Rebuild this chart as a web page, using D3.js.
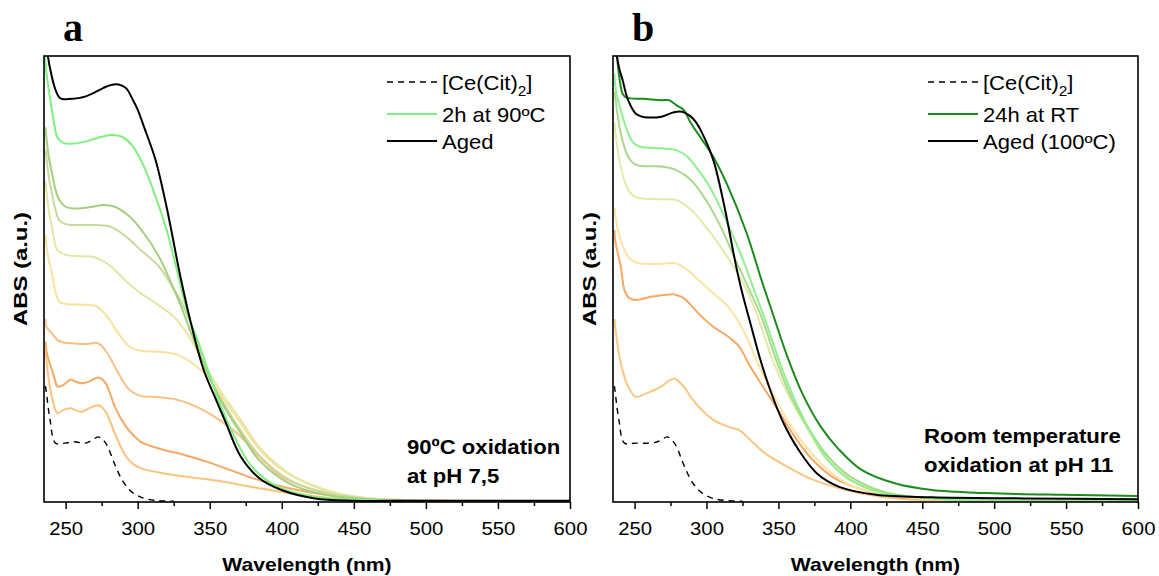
<!DOCTYPE html>
<html>
<head>
<meta charset="utf-8">
<script src="https://cdn.jsdelivr.net/npm/d3@7"></script>
<style>
  body { margin: 0; background: #fff; }
  svg { display: block; }
</style>
</head>
<body>
<svg width="1159" height="576"></svg>
<script>
// ---- data: [wavelength (nm), absorbance (a.u., 0-100)] ----

// panel a : 90ºC oxidation at pH 7,5
const aCit = [[236,26],[236.6,24.7],[239.2,18.4],[243,13.2],[249.4,13.2],[255.8,13.5],[263.6,13.2],[268,13.8],[272.5,14.6],[275,14.2],[277.8,13.2],[280,11.8],[282.9,9.4],[286,7],[289.3,4.9],[293,3.2],[297,2],[304.7,0.8],[314.8,0.3],[325,0.2]];
const aLowDouble = [[236,34],[236.6,32],[238.5,27],[240.5,23.5],[242.5,21],[244.3,19.9],[248.2,20.6],[253.3,21],[257,20.6],[261,20.2],[266.2,21],[272.5,21.7],[275,21.3],[277.8,20.2],[281,18],[284.1,15.4],[291.9,10.2],[297,8.5],[302.1,7.6],[314.8,6.6],[332.8,5.7],[358.5,4.6],[384.2,3.1],[405,2],[430,1],[461,0.4],[520,0.2],[600,0.2]];
const aDouble = [[236,36],[236.6,34.1],[238.5,31.5],[240.5,29.6],[242.5,27.5],[244.3,25.9],[248.2,26.2],[253.3,27.4],[257,27],[261,26.6],[266.2,27],[272.5,27.9],[275,27.6],[277.8,26.6],[281,24.2],[284.1,21.4],[291.9,16.9],[297,15],[302.1,13.5],[314.8,12],[332.8,10.5],[348.4,9],[363.8,7.2],[384.2,4.9],[405,3.1],[430.7,1.6],[461,0.6],[520,0.2],[600,0.2]];
const aOrange = [[236,41],[236.6,39.3],[240.5,37.8],[244.3,36.3],[248,35.8],[253.3,35.6],[263.6,35.4],[272.5,35.6],[279,33.3],[286.7,28.8],[294.4,25.1],[302.1,23.8],[314.8,23.5],[327.8,22.9],[340.7,21.4],[353.5,19.1],[369,15.4],[384.2,10.2],[399.8,5.7],[423,2.7],[448.7,1.2],[480,0.5],[520,0.3],[600,0.2]];
const aYellow = [[236,60],[236.6,57.6],[238.5,54],[240.5,51.3],[243,47],[246,44.8],[250,44.4],[263.6,44.2],[271.3,43.9],[279,41.5],[286.7,37.8],[294.4,34.8],[302.1,33.9],[314.8,33.7],[327.8,33],[338.1,31.1],[348.4,28.1],[358.5,23.6],[371.5,17.6],[384,12],[397.2,7.9],[423,3.4],[448.7,1.2],[480,0.5],[520,0.3],[600,0.2]];
const aPale = [[236,72],[236.6,70],[238.5,65],[240.5,61.7],[244.3,56.5],[250.7,55.4],[260,55.1],[268.7,55],[275,54.2],[281.5,52.8],[291.9,49.5],[302.1,46.8],[312.4,44.6],[325.2,41.5],[335.6,37.1],[345.8,31.1],[358.5,24.4],[371.5,18.4],[384.2,12.4],[405,6.4],[430.6,2.7],[461.2,0.8],[500,0.3],[600,0.2]];
const aLightOlive = [[236,79],[236.6,77.4],[238.5,72.5],[240.5,69.2],[243,65.5],[245.6,63.2],[250,62.3],[255.8,62.1],[271.3,62.1],[281.5,61.7],[291.9,59.5],[302.1,56.5],[314.8,52.8],[322.7,49],[330,45],[338,39],[345,32],[350,28],[358.5,22.8],[371.5,16],[384.2,10.5],[405,5],[430.6,2],[461.2,0.7],[520,0.2],[600,0.2]];
const aOlive = [[236,84],[236.6,81.9],[238.5,77],[240.5,73.8],[243,70],[245.6,67.7],[250,66.2],[255.8,65.8],[262,65.9],[268.7,66.2],[276.4,66.6],[284.1,66.2],[294.4,64],[304.4,60.2],[314.8,55],[322.7,49.5],[330,44],[338.1,37],[348.4,28.9],[358.5,22.2],[371.5,15.4],[384.2,9.4],[405,4.2],[430.6,1.6],[461.2,0.6],[520,0.2],[600,0.2]];
const a2h = [[235,102],[236.6,96.5],[238.5,92],[240.5,87.9],[242.5,84],[244.3,81.7],[248,80.6],[253.3,80.3],[263.5,80.8],[272,81.6],[281.5,82.3],[289.1,81.9],[296.8,79.7],[304.4,75.2],[312.4,68.5],[320.1,61],[327.8,51.3],[335,42],[343.3,34.8],[353.5,25.1],[363.8,16.9],[379.3,7.9],[397.2,3.4],[423,1.2],[461.2,0.4],[520,0.2],[600,0.1]];
const aAged = [[235,110],[237.8,99.8],[240,96],[243,92.4],[246,90.6],[249.4,90.3],[255,90.4],[263.5,90.9],[270,91.8],[276,92.8],[281.5,93.5],[286.7,93.6],[291.9,92.8],[296.8,90.1],[300,88],[304.4,84.1],[312.4,76.7],[320.1,66.1],[330,50],[338.1,38.6],[345.8,29.6],[353.5,23.6],[361.3,17.7],[371.5,10.2],[384.2,5.4],[399.8,2.7],[423,0.8],[448.7,0.3],[500,0.3],[600,0.3]];

// panel b : room temperature oxidation at pH 11
const bCit = [[236,26],[236.5,24.7],[239.1,18.4],[243,13.2],[250.7,13.2],[263.6,13.3],[268,13.8],[272.5,14.6],[275,14.2],[277.7,13.2],[280,11.8],[282.9,9.4],[286,7],[289.2,4.9],[293,3.2],[297,2],[304.7,0.8],[315,0.3],[325,0.2]];
const bLightOrange = [[236,41],[236.5,39.3],[238.5,34.5],[240.4,31.1],[243,28],[245.5,25.9],[250.7,23.6],[258.4,24.4],[263,25],[268.7,25.9],[273,27],[277.7,27.7],[281,26.9],[284.2,25.9],[289,23.6],[294.4,21.4],[304.7,18.4],[315,16.9],[322.8,16.1],[330.5,13.9],[340.8,10.9],[356.2,7.9],[371.7,5.3],[392.3,3.1],[418,1.35],[440,0.6],[480,0.3],[600,0.2]];
const bOrange = [[236,61],[236.5,58.7],[238.5,55.5],[240.4,52.8],[243,47.5],[246,45.8],[250.7,45.3],[255,45.5],[261,46],[270,46.4],[276.4,46.6],[280,46.3],[284.2,45.7],[289,44.2],[294.4,42.3],[304.7,39.3],[315,37.1],[322.8,34.8],[330.5,30.3],[340.8,25.1],[351.1,19.9],[361.4,14.6],[371.7,10.2],[387.2,5.7],[405.2,3.1],[430.9,1.2],[456.7,0.6],[500,0.3],[600,0.2]];
const bYellow = [[236,66],[236.5,64.3],[238.5,61],[240.4,58.7],[243,56.5],[245.5,55],[249,54],[253.3,53.5],[268.7,53.4],[279,53.5],[286.7,52],[294.4,49.8],[304.7,46.8],[315,43.8],[325.4,38.6],[335.7,31.1],[346,24.4],[356.2,18.4],[369.2,12.4],[382,7.9],[397.4,4.2],[418,2],[450,0.7],[500,0.3],[600,0.2]];
const bPale = [[236,85],[236.5,83.4],[238.5,78.5],[240.4,75.2],[243,72],[245.5,70],[249,68.7],[253.3,68.1],[268.7,67.9],[279,67.7],[289.2,65.5],[299.6,61.7],[309.9,57.2],[320.2,52],[328,47.5],[335.7,41.5],[346,31.8],[356.2,24.4],[369.2,16.9],[382,10.2],[397.4,5.7],[418,2.3],[456.7,0.8],[500,0.3],[600,0.2]];
const bOlive = [[236,92],[236.5,90.9],[238.5,86],[240.4,82.7],[243,79.5],[245.5,77.4],[249,76],[253.3,75.4],[268.7,75.2],[279,74.4],[289.2,72.2],[299.6,67.7],[309.9,61.7],[320.2,54.3],[329.2,48],[338.2,41.5],[348.5,31.8],[358.8,23.6],[371.7,16.1],[384.5,10.2],[400,5.7],[423.2,2.3],[456.7,0.8],[500,0.4],[600,0.3]];
const bLightGreen = [[236,96],[236.5,93.5],[238.5,90],[240.4,87.9],[243,85],[245.5,82.7],[249,80.6],[253.3,79.7],[268.7,79.3],[279,78.9],[286.7,77.4],[294.4,74.4],[302.2,70.7],[312.5,64],[325.4,54.3],[332,48.5],[340.8,40.8],[351.1,31.1],[361.4,22.9],[371.7,16.1],[384.5,9.4],[400,4.9],[423.2,2],[456.7,0.8],[500,0.3],[600,0.1]];
const b24h = [[235,108],[237.8,99.8],[239.5,95],[241.7,91.5],[244,90.7],[246.8,90.5],[255.8,90.4],[268.7,90.1],[273.8,90.1],[279,89],[284.2,87.9],[289.2,84.9],[297,81.2],[304.7,77.4],[315,70.7],[328,60.2],[338.2,49.8],[346,42.3],[356.2,32.6],[366.5,24.4],[379.4,16.9],[392.3,11.7],[407.8,7.2],[430.9,4.2],[456.7,2.7],[495.3,2],[546.8,1.6],[600,1.35]];
const bAged = [[235,108],[237.8,99.8],[239.5,97],[241.7,94.6],[243.5,92.2],[245.5,90.1],[250.7,87.1],[255,86.4],[259.7,86.2],[268.7,86.4],[276.4,87.3],[282.9,87.5],[289.2,86.4],[293,85],[297,82.7],[304.7,76.7],[312.5,66.2],[320.2,53.5],[324,48],[330.5,40.1],[338.2,31.1],[346,23.6],[353.7,17.6],[364,11.7],[376.8,6.4],[392.3,3.4],[418,1.6],[456.7,1.05],[521,0.8],[600,0.6]];

const majorTicks = [250, 300, 350, 400, 450, 500, 550, 600];
const minorTicks = [275, 325, 375, 425, 475, 525, 575];
const legendA = ["[Ce(Cit)", "2h at 90ºC", "Aged"];
const legendB = ["[Ce(Cit)", "24h at RT", "Aged (100ºC)"];
const noteA = ["90ºC oxidation", "at pH 7,5"];
const noteB = ["Room temperature", "oxidation at pH 11"];

// ---- styles ----
const panels = [
    {id: "a", left: 44, right: 570, legendX: 343, noteX: 363, noteY: 454, legend: legendA, note: noteA,
     series: [
        {d: aCit, c: "#000", dash: "6,5", w: 1.4},
        {d: aLowDouble, c: "#fbc37f"},
        {d: aDouble, c: "#f7a862"},
        {d: aOrange, c: "#f9bf86"},
        {d: aYellow, c: "#fbe09c"},
        {d: aPale, c: "#e4e6a4"},
        {d: aLightOlive, c: "#c7da9b"},
        {d: aOlive, c: "#a3cf7f"},
        {d: a2h, c: "#7ff07f"},
        {d: aAged, c: "#000"}
     ],
     legendStyle: [{c: "#000", dash: "6,5"}, {c: "#7ff07f"}, {c: "#000"}]},
    {id: "b", left: 613, right: 1138, legendX: 315, noteX: 311, noteY: 443, legend: legendB, note: noteB,
     series: [
        {d: bCit, c: "#000", dash: "6,5", w: 1.4},
        {d: bLightOrange, c: "#fbc583"},
        {d: bOrange, c: "#f7a964"},
        {d: bYellow, c: "#fde2a2"},
        {d: bPale, c: "#e3eaa8"},
        {d: bOlive, c: "#a9d98a"},
        {d: bLightGreen, c: "#8ef08e"},
        {d: b24h, c: "#1b8c1b"},
        {d: bAged, c: "#000"}
     ],
     legendStyle: [{c: "#000", dash: "6,5"}, {c: "#1b8c1b"}, {c: "#000"}]}
];

const plotTop = 56, plotBottom = 502;
const sans = "'Liberation Sans', Arial, sans-serif";
const svg = d3.select("svg");

function addText(g, x, y, str, size, weight, sx) {
    return g.append("text")
        .attr("transform", "translate(" + x + "," + y + ") scale(" + sx + ",1)")
        .attr("font-family", sans)
        .attr("font-size", size + "px")
        .attr("font-weight", weight)
        .attr("fill", "#000")
        .text(str);
}

panels.forEach(p => {
    const x = d3.scaleLinear().domain([235, 600]).range([p.left, p.right]);
    const y = d3.scaleLinear().domain([0, 100]).range([plotBottom, plotTop]);
    const g = svg.append("g");

    g.append("clipPath").attr("id", "clip-" + p.id)
        .append("rect")
        .attr("x", p.left).attr("y", plotTop)
        .attr("width", p.right - p.left).attr("height", plotBottom - plotTop);

    const line = d3.line()
        .x(d => x(d[0]))
        .y(d => y(d[1]))
        .curve(d3.curveCatmullRom.alpha(0.5));

    g.append("g").attr("clip-path", "url(#clip-" + p.id + ")")
        .selectAll("path")
        .data(p.series)
        .enter()
        .append("path")
        .attr("d", s => line(s.d))
        .attr("fill", "none")
        .attr("stroke", s => s.c)
        .attr("stroke-width", s => s.w || 2)
        .attr("stroke-dasharray", s => s.dash || null)
        .attr("stroke-linejoin", "round");

    // x axis, major + minor ticks
    const ax = g.append("g").attr("transform", "translate(0," + plotBottom + ")")
        .call(d3.axisBottom(x).tickValues(majorTicks).tickSize(7).tickSizeOuter(0));
    ax.select(".domain").remove();
    ax.selectAll(".tick line").attr("stroke", "#000").attr("stroke-width", 1.5);
    ax.selectAll(".tick text")
        .attr("y", 33).attr("dy", null)
        .attr("transform", "scale(1.13,1)")
        .attr("font-family", sans)
        .attr("font-size", "18px")
        .attr("fill", "#000");

    const mx = g.append("g").attr("transform", "translate(0," + plotBottom + ")")
        .call(d3.axisBottom(x).tickValues(minorTicks).tickSize(4).tickFormat(""));
    mx.select(".domain").remove();
    mx.selectAll(".tick line").attr("stroke", "#000").attr("stroke-width", 1.5);

    // frame
    g.append("rect")
        .attr("x", p.left).attr("y", plotTop)
        .attr("width", p.right - p.left).attr("height", plotBottom - plotTop)
        .attr("fill", "none").attr("stroke", "#000").attr("stroke-width", 1.6);

    // axis titles
    addText(g, (p.left + p.right) / 2, 571, "Wavelength (nm)", 18.7, "bold", 1.13)
        .attr("text-anchor", "middle");
    g.append("text")
        .attr("transform", "translate(" + (p.left - 17) + ",269) rotate(-90)")
        .attr("text-anchor", "middle")
        .attr("font-family", sans)
        .attr("font-size", "19px")
        .attr("font-weight", "bold")
        .attr("textLength", 114)
        .attr("lengthAdjust", "spacingAndGlyphs")
        .text("ABS (a.u.)");

    // panel letter
    g.append("text")
        .attr("x", p.left + 19).attr("y", 41)
        .attr("font-family", "'Liberation Serif', 'Times New Roman', serif")
        .attr("font-size", "40px")
        .attr("font-weight", "bold")
        .text(p.id);

    // legend
    const rows = [82, 114, 141];
    p.legend.forEach((label, i) => {
        const st = p.legendStyle[i];
        g.append("line")
            .attr("x1", p.left + p.legendX).attr("x2", p.left + p.legendX + 50)
            .attr("y1", rows[i]).attr("y2", rows[i])
            .attr("stroke", st.c).attr("stroke-width", st.dash ? 1.4 : 2)
            .attr("stroke-dasharray", st.dash || null);
        const t = addText(g, p.left + p.legendX + 55, rows[i] + 8, label, 20, "normal", 1.1);
        if (i === 0) {
            t.append("tspan").attr("dy", 6).attr("font-size", "14px").text("2");
            t.append("tspan").attr("dy", -6).text("]");
        }
    });

    // annotation
    p.note.forEach((s, i) => {
        addText(g, p.left + p.noteX, p.noteY + i * 29, s, 20.5, "bold", 1.08);
    });
});
</script>
</body>
</html>
